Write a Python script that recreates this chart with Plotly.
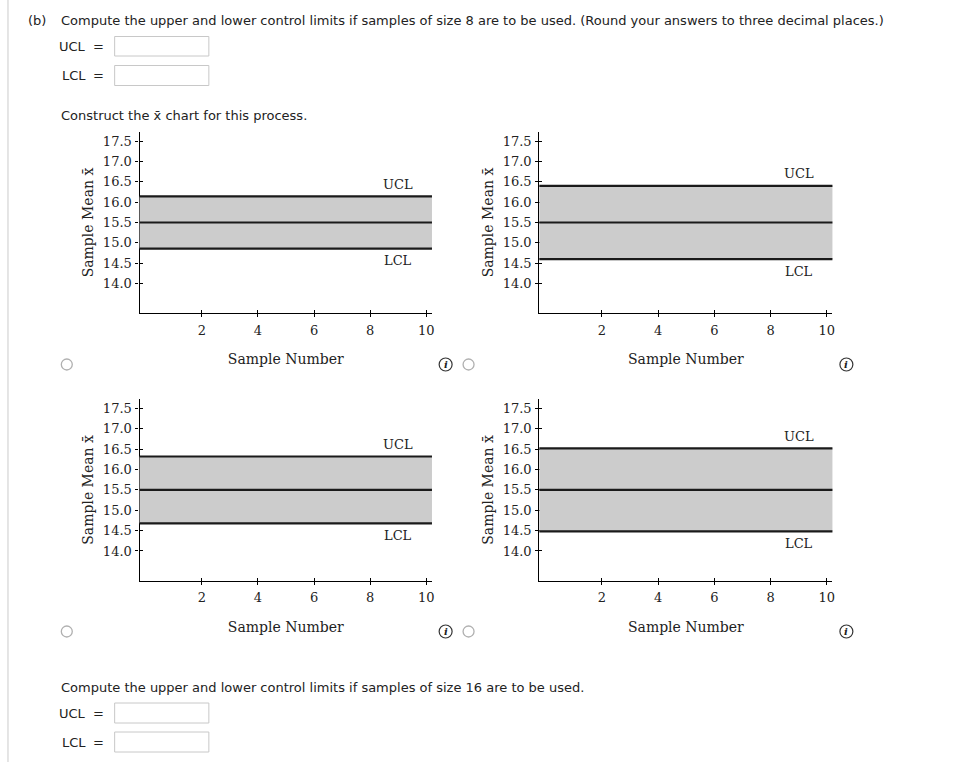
import plotly.graph_objects as go

W, H = 976, 762

# ---------------- data ----------------
center_line = 15.5
ucl_values = [16.14, 16.40, 16.32, 16.52]
lcl_values = [14.86, 14.60, 14.68, 14.48]
x_tick_vals = [2, 4, 6, 8, 10]
x_tick_text = ["2", "4", "6", "8", "10"]
y_tick_vals = [14.0, 14.5, 15.0, 15.5, 16.0, 16.5, 17.0, 17.5]
y_tick_text = ["14.0", "14.5", "15.0", "15.5", "16.0", "16.5", "17.0", "17.5"]
x_range = [-0.22, 10.2]
y_range = [13.27, 17.73]
label_x = 9
x_title = "Sample Number"
y_title = "Sample Mean x\u0304"

# ---------------- layout helpers ----------------
def px(x):
    return x / W

def py(y):
    return 1 - y / H

# panel pixel boxes: (left, right, top, bottom)
panels = [
    (140, 433.3, 131.7, 313.3),
    (541, 835, 131.7, 313.3),
    (140, 433.3, 399.1, 580.7),
    (541, 835, 399.1, 580.7),
]

SERIF = "DejaVu Serif"
SANS = "DejaVu Sans"
INK = "#222222"

fig = go.Figure()
layout = dict(
    width=W, height=H, margin=dict(l=0, r=0, t=0, b=0),
    paper_bgcolor="white", plot_bgcolor="rgba(0,0,0,0)", showlegend=False,
    font=dict(family=SERIF, size=13, color=INK),
)
shapes = []
annotations = []

for i, (l, r, t, b) in enumerate(panels):
    n = i + 1
    xs = "" if n == 1 else str(n)
    xo, yo = n + 4, n + 4
    xdom = [px(l), px(r)]
    ydom = [py(b), py(t)]
    layout["xaxis" + xs] = dict(
        domain=xdom, anchor="y" + xs, range=x_range, showgrid=False, zeroline=False,
        showline=True, linecolor="black", linewidth=1.3,
        ticks="outside", ticklen=3, tickwidth=1, tickcolor="black",
        tickvals=x_tick_vals, ticktext=x_tick_text, ticklabelstandoff=2,
        tickfont=dict(family=SERIF, size=13, color=INK),
        title=dict(text=x_title, font=dict(family=SERIF, size=14, color=INK), standoff=17),
    )
    layout["yaxis" + xs] = dict(
        domain=ydom, anchor="x" + xs, range=y_range, showgrid=False, zeroline=False,
        showline=True, linecolor="black", linewidth=1.3,
        ticks="outside", ticklen=3, tickwidth=1, tickcolor="black",
        tickvals=y_tick_vals, ticktext=y_tick_text, ticklabelstandoff=1,
        tickfont=dict(family=SERIF, size=13, color=INK),
        title=dict(text=y_title, font=dict(family=SERIF, size=14, color=INK), standoff=5),
    )
    # overlay axes giving the ticks their inner half (crossing ticks)
    layout["xaxis%d" % xo] = dict(
        domain=xdom, anchor="y" + xs, overlaying="x" + xs, range=x_range,
        showgrid=False, zeroline=False, showline=False, showticklabels=False,
        ticks="inside", ticklen=3, tickwidth=1, tickcolor="black", tickvals=x_tick_vals,
    )
    layout["yaxis%d" % yo] = dict(
        domain=ydom, anchor="x" + xs, overlaying="y" + xs, range=y_range,
        showgrid=False, zeroline=False, showline=False, showticklabels=False,
        ticks="inside", ticklen=3, tickwidth=1, tickcolor="black", tickvals=y_tick_vals,
    )
    # invisible traces so the overlay axes are drawn
    fig.add_trace(go.Scatter(x=[], y=[], xaxis="x%d" % xo, yaxis="y" + xs, hoverinfo="skip"))
    fig.add_trace(go.Scatter(x=[], y=[], xaxis="x" + xs, yaxis="y%d" % yo, hoverinfo="skip"))

    ucl, lcl = ucl_values[i], lcl_values[i]
    xref_dom = "x" + xs + " domain"
    yref = "y" + xs
    shapes.append(dict(type="rect", xref=xref_dom, yref=yref, x0=0, x1=1, y0=lcl, y1=ucl,
                       fillcolor="#cccccc", line=dict(width=0), layer="above"))
    for yv in (ucl, center_line, lcl):
        shapes.append(dict(type="line", xref=xref_dom, yref=yref, x0=0, x1=1, y0=yv, y1=yv,
                           line=dict(color="#1a1a1a", width=2.2), layer="above"))
    annotations.append(dict(xref="x" + xs, yref=yref, x=label_x, y=ucl, yshift=12,
                            text="UCL", showarrow=False, font=dict(family=SERIF, size=13, color=INK)))
    annotations.append(dict(xref="x" + xs, yref=yref, x=label_x, y=lcl, yshift=-12,
                            text="LCL", showarrow=False, font=dict(family=SERIF, size=13, color=INK)))

# ---------------- page furniture ----------------
def text(x, y, s, anchor="left", size=13, family=SANS):
    annotations.append(dict(xref="paper", yref="paper", x=px(x), y=py(y), text=s,
                            xanchor=anchor, yanchor="middle", showarrow=False,
                            font=dict(family=family, size=size, color=INK)))

def box(x0, y0, x1, y1):
    shapes.append(dict(type="rect", xref="paper", yref="paper",
                       x0=px(x0), x1=px(x1), y0=py(y1), y1=py(y0),
                       line=dict(color="#c8c8c8", width=1), fillcolor="white"))

def radio(cx, cy, r=5.5):
    shapes.append(dict(type="circle", xref="paper", yref="paper",
                       x0=px(cx - r), x1=px(cx + r), y0=py(cy + r), y1=py(cy - r),
                       line=dict(color="#b0b0b0", width=1.3), fillcolor="white"))

def info(cx, cy, r=6.5):
    shapes.append(dict(type="circle", xref="paper", yref="paper",
                       x0=px(cx - r), x1=px(cx + r), y0=py(cy + r), y1=py(cy - r),
                       line=dict(color="#333333", width=1.2), fillcolor="white"))
    text(cx, cy, "<b><i>i</i></b>", anchor="center", size=10, family=SERIF)

# left page border
shapes.append(dict(type="line", xref="paper", yref="paper", x0=px(8), x1=px(8), y0=0, y1=1,
                   line=dict(color="#dddddd", width=1.5)))

text(26, 20, "(b)")
text(59, 20, "Compute the upper and lower control limits if samples of size 8 are to be used. (Round your answers to three decimal places.)")
text(88, 47, "UCL", anchor="right")
text(99, 47, "=", anchor="center")
box(115, 36.5, 209.5, 56)
text(88, 76, "LCL", anchor="right")
text(99, 76, "=", anchor="center")
box(115, 65.5, 209.5, 85.5)
text(59, 115, "Construct the x\u0304 chart for this process.")

for cy in (364.5, 631.5):
    radio(67, cy)
    radio(470, cy)
    info(447, cy)
    info(849, cy)

text(59, 687, "Compute the upper and lower control limits if samples of size 16 are to be used.")
text(88, 713, "UCL", anchor="right")
text(99, 713, "=", anchor="center")
box(115, 703, 209.5, 723)
text(88, 742, "LCL", anchor="right")
text(99, 742, "=", anchor="center")
box(115, 732, 209.5, 752)

layout["shapes"] = shapes
layout["annotations"] = annotations
fig.update_layout(**layout)

fig.write_html("out.html", config={"displayModeBar": False},
               post_script="document.body.style.margin='0';")
